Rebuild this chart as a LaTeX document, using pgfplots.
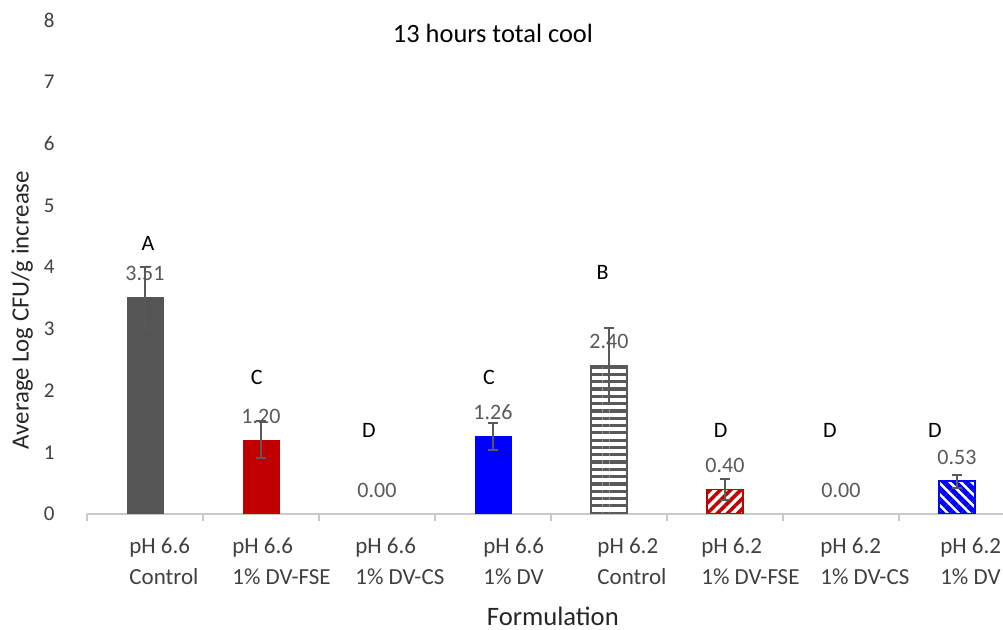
\documentclass[border=0pt]{standalone}
\usepackage{fontspec}
\setmainfont{Carlito}
\usepackage{pgfplots}
\pgfplotsset{compat=1.18}
\usetikzlibrary{patterns.meta}
\definecolor{bargray}{RGB}{85,85,85}
\definecolor{barred}{RGB}{192,0,0}
\definecolor{barblue}{RGB}{0,0,255}
\definecolor{stripegray}{RGB}{89,89,89}
\definecolor{errgray}{RGB}{89,89,89}
\definecolor{axisgray}{RGB}{200,200,200}
\definecolor{ticktext}{RGB}{64,64,64}
\begin{document}
\begin{tikzpicture}
\begin{axis}[
  at={(43.5pt,58pt)}, anchor=south west,
  scale only axis, width=464pt, height=246.8pt,
  xmin=-0.5, xmax=7.5, ymin=0, ymax=8,
  axis x line=bottom, axis y line=left,
  x axis line style={-, draw=axisgray, line width=0.8pt},
  y axis line style={draw=none},
  xtick={-0.5,0.5,...,7.5}, xticklabels={},
  ytick={0,1,...,8},
  tick align=outside, major tick length=3.5pt,
  x tick style={draw=axisgray, line width=0.8pt},
  y tick style={draw=none},
  extra x ticks={-0.138,0.75,1.81,2.914,3.897,4.793,5.819,6.853},
  extra x tick labels={{pH 6.6\\Control},{pH 6.6\\1\% DV-FSE},{pH 6.6\\1\% DV-CS},{pH 6.6\\1\% DV},{pH 6.2\\Control},{pH 6.2\\1\% DV-FSE},{pH 6.2\\1\% DV-CS},{pH 6.2\\1\% DV}},
  extra x tick style={major tick length=0pt, tick style={draw=none},
    tick label style={anchor=north west, align=left, inner sep=0pt, yshift=-12pt,
      font=\fontsize{11.5pt}{15.5pt}\selectfont, text=ticktext}},
  yticklabel style={anchor=east, inner sep=0pt, xshift=-12.5pt,
      font=\fontsize{10.5pt}{12pt}\selectfont, text=ticktext},
  /pgf/number format/assume math mode=true,
  title={13 hours total cool},
  title style={at={(axis description cs:0.4375,0.95)}, anchor=center, yshift=0pt,
      font=\fontsize{13.2pt}{15pt}\selectfont, text=black},
  xlabel={Formulation},
  xlabel style={at={(axis description cs:0.502,-0.208)}, anchor=center, inner sep=0pt,
      font=\fontsize{13.3pt}{15pt}\selectfont, text=black!85},
  ylabel={Average Log CFU/g increase},
  ylabel style={at={(axis description cs:-0.070,0.413)}, anchor=center,
      font=\fontsize{12.4pt}{15pt}\selectfont, text=black!85},
  error bars/error bar style={errgray, line width=1pt},
  error bars/error mark options={rotate=90, mark size=2.5pt, line width=1pt, errgray},
]
% pH 6.6 Control
\addplot[ybar, bar width=18pt, bar shift=0pt, fill=bargray, draw=bargray,
  error bars/.cd, y dir=both, y explicit]
  coordinates {(0,3.51) +- (0,0.49)};
% pH 6.6 1% DV-FSE
\addplot[ybar, bar width=18pt, bar shift=0pt, fill=barred, draw=barred,
  error bars/.cd, y dir=both, y explicit]
  coordinates {(1,1.20) +- (0,0.30)};
% pH 6.6 1% DV
\addplot[ybar, bar width=18pt, bar shift=0pt, fill=barblue, draw=barblue,
  error bars/.cd, y dir=both, y explicit]
  coordinates {(3,1.26) +- (0,0.22)};
% pH 6.2 Control
\addplot[ybar, bar width=18pt, bar shift=0pt, draw=stripegray, line width=0.8pt,
  pattern={Lines[angle=0,distance=3.65pt,line width=1.6pt]}, pattern color=stripegray,
  error bars/.cd, y dir=both, y explicit]
  coordinates {(4,2.40) +- (0,0.62)};
% pH 6.2 1% DV-FSE
\addplot[ybar, bar width=18pt, bar shift=0pt, draw=barred, line width=0.8pt,
  pattern={Lines[angle=45,distance=3.6pt,line width=1.8pt]}, pattern color=barred,
  error bars/.cd, y dir=both, y explicit]
  coordinates {(5,0.40) +- (0,0.17)};
% pH 6.2 1% DV
\addplot[ybar, bar width=18pt, bar shift=0pt, draw=barblue, line width=0.8pt,
  pattern={Lines[angle=-45,distance=3.9pt,line width=2.5pt]}, pattern color=barblue,
  error bars/.cd, y dir=both, y explicit]
  coordinates {(7,0.53) +- (0,0.11)};
% value labels
\addplot[draw=none, mark=none, point meta=y,
  nodes near coords={\pgfmathprintnumber[fixed,fixed zerofill,precision=2]{\pgfplotspointmeta}},
  every node near coord/.append style={anchor=center, yshift=12pt, text=errgray,
     font=\fontsize{11pt}{13pt}\selectfont}]
  coordinates {(0,3.51) (1,1.20) (2,0) (3,1.26) (4,2.40) (5,0.40) (6,0) (7,0.53)};
% significance letters
\addplot[draw=none, mark=none, point meta=explicit symbolic, nodes near coords,
  every node near coord/.append style={anchor=center, text=black,
     font=\fontsize{11pt}{13pt}\selectfont}]
  table[meta=lab, row sep=\\] {
  x y lab\\
  0.026 4.39 A\\
  0.963 2.22 C\\
  1.93 1.36 D\\
  2.966 2.22 C\\
  3.946 3.92 B\\
  4.963 1.36 D\\
  5.905 1.36 D\\
  6.81 1.36 D\\
  };
\end{axis}
\pgfresetboundingbox
\useasboundingbox (0,0) rectangle (501.5pt,315pt);
\end{tikzpicture}
\end{document}
